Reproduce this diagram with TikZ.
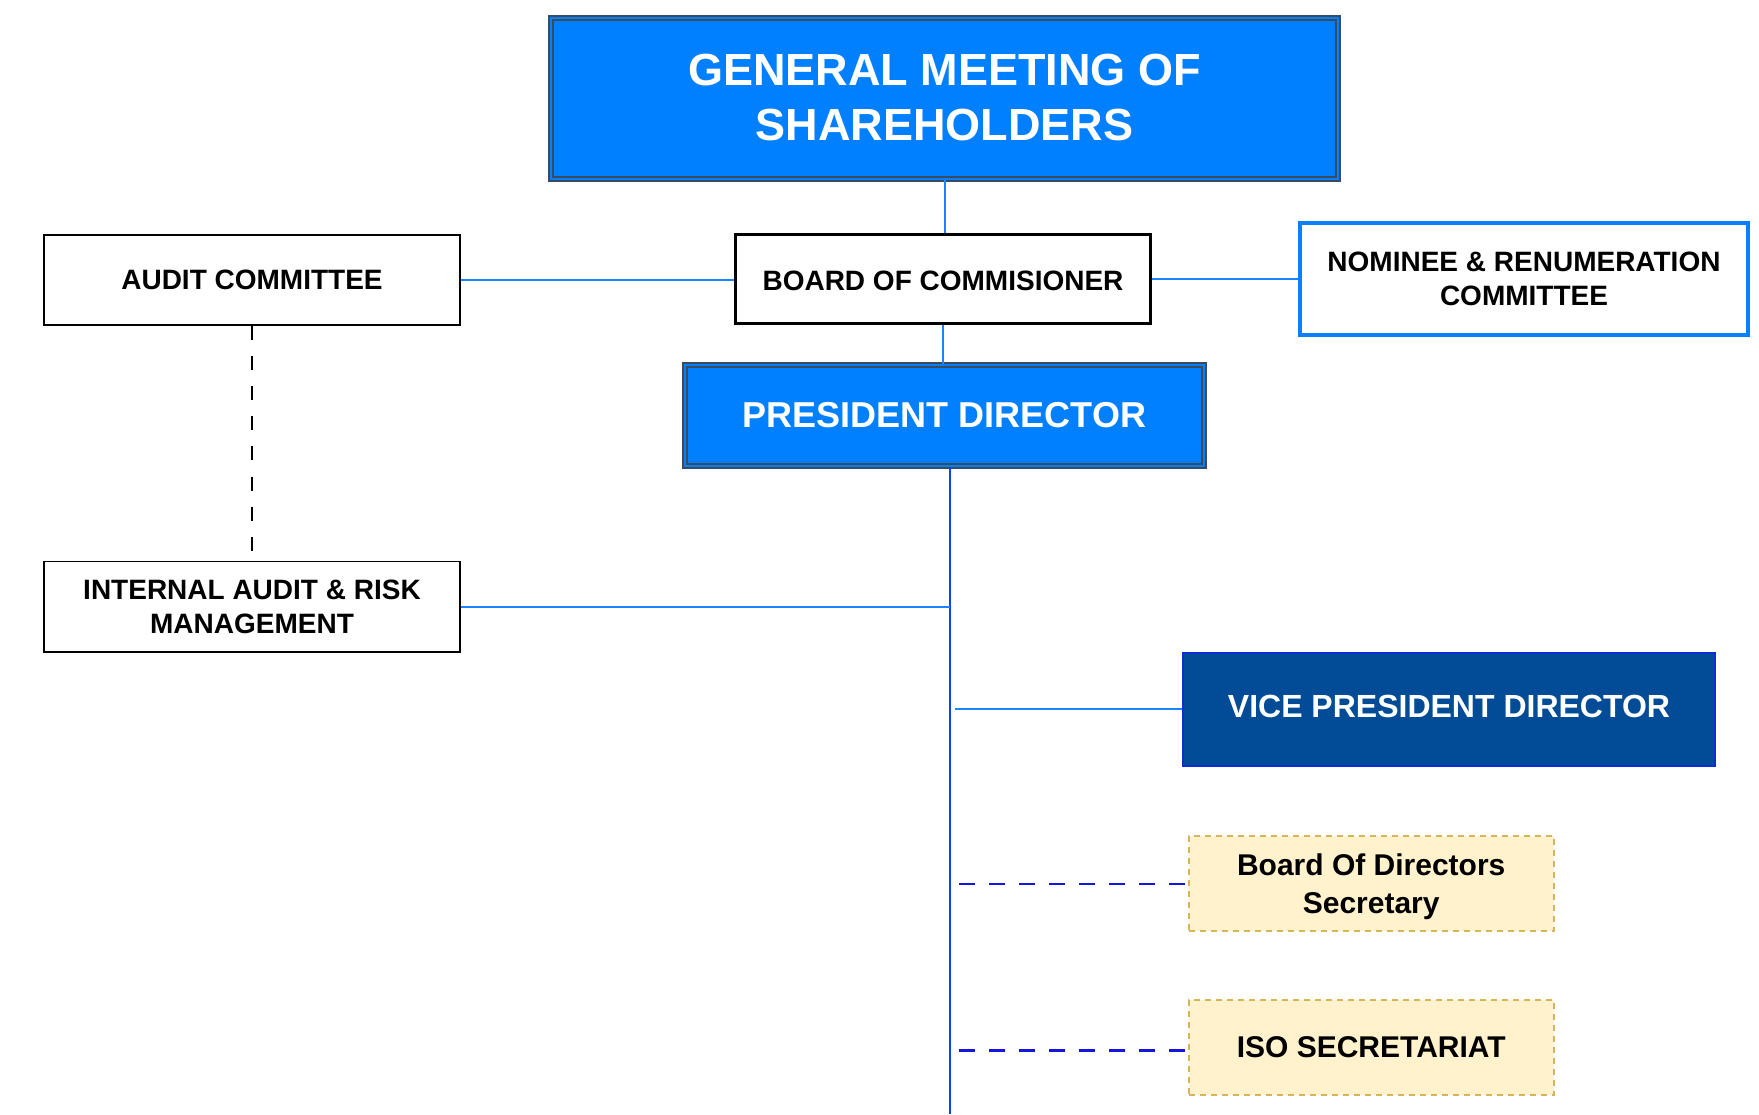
\documentclass[tikz,border=0pt]{standalone}
\usepackage{fontspec}
\setmainfont{Liberation Sans}
\begin{document}
\begin{tikzpicture}[x=1pt,y=-1pt,
  every node/.style={inner sep=0pt, align=center, font=\bfseries},
  gmsstyle/.style={draw=gmsborder, double=gmsblue, line width=2pt, double distance=2pt, fill=gmsblue, text=white},
  plainbox/.style={draw=black, fill=white, line width=1.6pt, text=black},
  bocbox/.style={draw=black, fill=white, line width=3.8pt, text=black},
  nrcbox/.style={draw=nrcblue, fill=white, line width=3.8pt, text=black},
  vpdbox/.style={draw=vpdborder, fill=vpdfill, line width=2pt, text=white},
  secbox/.style={draw=secborder, fill=secfill, line width=2pt, dash pattern=on 6pt off 5pt, text=black},
  conn/.style={draw=linkblue, line width=2pt},
  trunkline/.style={draw=trunkblue, line width=2.6pt},
  secconn/.style={draw=secblue, line width=2.2pt, dash pattern=on 16pt off 14pt},
  auditconn/.style={draw=black, line width=1.6pt, dash pattern=on 14pt off 16.1pt}
]
\definecolor{gmsblue}{HTML}{0080FF}
\definecolor{gmsborder}{HTML}{3B4B5E}
\definecolor{linkblue}{HTML}{1A85FF}
\definecolor{trunkblue}{HTML}{1040FF}
\definecolor{nrcblue}{HTML}{0A7FFF}
\definecolor{vpdfill}{HTML}{024C97}
\definecolor{vpdborder}{HTML}{0A2ED6}
\definecolor{secfill}{HTML}{FFF2CC}
\definecolor{secborder}{HTML}{D6B656}
\definecolor{secblue}{HTML}{1515E0}

\useasboundingbox[fill=white] (0,0) rectangle (1759,1114);

% nodes
\node[gmsstyle, minimum width=787pt, minimum height=161pt,
      font=\fontsize{45}{55}\selectfont\bfseries] (gms) at (944.5,98)
      {GENERAL MEETING OF\\SHAREHOLDERS};
\node[bocbox, minimum width=415pt, minimum height=89pt, text height=23pt, text depth=0pt,
      font=\fontsize{28}{34}\selectfont\bfseries] (boc) at (943,279)
      {BOARD OF COMMISIONER};
\node[plainbox, minimum width=416.5pt, minimum height=90.5pt,
      font=\fontsize{28}{34}\selectfont\bfseries] (audit) at (252,280)
      {AUDIT COMMITTEE};
\node[plainbox, minimum width=416.5pt, minimum height=90.5pt,
      font=\fontsize{28}{34}\selectfont\bfseries] (ia) at (252,606.7)
      {INTERNAL AUDIT \& RISK\\MANAGEMENT};
\node[nrcbox, minimum width=448.7pt, minimum height=112pt,
      font=\fontsize{28}{34.5}\selectfont\bfseries] (nrc) at (1524,279)
      {NOMINEE \& RENUMERATION\\COMMITTEE};
\node[gmsstyle, minimum width=519pt, minimum height=101.6pt,
      font=\fontsize{36}{43}\selectfont\bfseries] (pd) at (944.5,415.5)
      {PRESIDENT DIRECTOR};
\node[vpdbox, minimum width=532.8pt, minimum height=112.7pt, text height=17pt, text depth=0pt,
      font=\fontsize{32}{38}\selectfont\bfseries] (vpd) at (1449,709.3)
      {VICE PRESIDENT DIRECTOR};
\node[secbox, minimum width=365pt, minimum height=95pt,
      font=\fontsize{30}{38}\selectfont\bfseries] (bods) at (1371.2,883.7)
      {Board Of Directors\\\raisebox{0pt}[\height][0pt]{Secretary}};
\node[secbox, minimum width=365pt, minimum height=95pt,
      font=\fontsize{30}{37}\selectfont\bfseries] (iso) at (1371.2,1047.5)
      {ISO SECRETARIAT};

\coordinate (tb) at (950,1114);

% connectors
\draw[conn] (gms.south) -- (gms.south |- boc.north);
\draw[conn] (boc.south) -- (boc.south |- pd.north);
\draw[conn] (audit.east) -- (audit.east -| boc.west);
\draw[conn] (boc.east) -- (boc.east -| nrc.west);
\draw[auditconn] (audit.south) -- ([yshift=8pt]ia.north);
\draw[trunkline] (tb |- pd.south) -- (tb);
\draw[conn] (ia.east) -- (ia.east -| tb);
\draw[conn] ([xshift=5pt]vpd.west -| tb) -- (vpd.west);
\draw[secconn] ([xshift=9pt]bods.west -| tb) -- (bods.west);
\draw[secconn] ([xshift=9pt,yshift=-3pt]iso.west -| tb) -- ([yshift=-3pt]iso.west);
\end{tikzpicture}
\end{document}
